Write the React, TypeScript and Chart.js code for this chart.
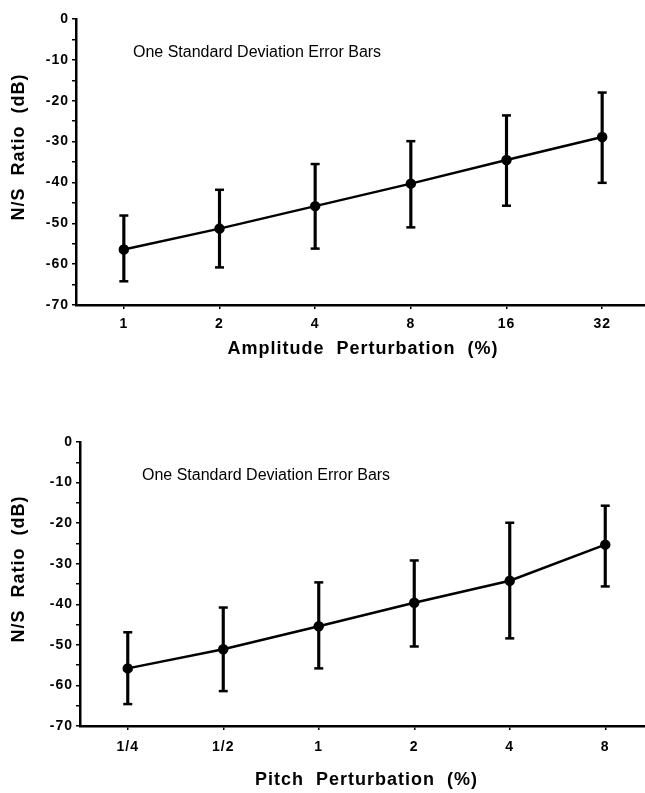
import React, { useEffect, useRef } from "react";
import { Chart, registerables } from "chart.js";

Chart.register(...registerables);

// ---- Data ----
const ampCategories = ["1", "2", "4", "8", "16", "32"];
const ampMeans = [-56.4, -51.3, -45.8, -40.3, -34.5, -28.9];
const ampUpper = [-48.1, -41.8, -35.5, -29.9, -23.6, -18.0];
const ampLower = [-64.2, -60.8, -56.2, -51.0, -45.7, -40.1];

const pitchCategories = ["1/4", "1/2", "1", "2", "4", "8"];
const pitchMeans = [-55.8, -51.1, -45.4, -39.6, -34.2, -25.3];
const pitchUpper = [-46.9, -40.8, -34.6, -29.2, -19.9, -15.7];
const pitchLower = [-64.6, -61.4, -55.8, -50.4, -48.4, -35.6];

const yMin = -70;
const yMax = 0;
const yStep = 5;
const yLabelStep = 10;

const yTitle = "     N/S  Ratio  (dB)";
const noteText = "One Standard Deviation Error Bars";

const FONT = '"Liberation Sans", Arial, Helvetica, sans-serif';

const letterSpacingPlugin = {
  id: "letterSpacing",
  beforeDraw(chart: any) {
    (chart.ctx as any).letterSpacing = "1px";
  },
};

type Props = {
  categories: string[];
  means: number[];
  upper: number[];
  lower: number[];
  xTitle: string;
  top: number;
  height: number;
  padTop: number;
  yWidth: number;
  xHeight: number;
  padRight: number;
  xTickPad: number;
  xTitlePadBottom: number;
  noteLeft: number;
  noteTop: number;
};

function ErrorChart(p: Props) {
  const ref = useRef<HTMLCanvasElement | null>(null);
  const WIDTH = 660;

  useEffect(() => {
    if (!ref.current) return;
    const chart = new Chart(ref.current, {
      type: "bar",
      data: {
        labels: p.categories,
        datasets: [
          {
            type: "line",
            data: p.means,
            borderColor: "#000",
            backgroundColor: "#000",
            borderWidth: 2.5,
            pointRadius: 4,
            pointBackgroundColor: "#000",
            pointBorderColor: "#000",
            tension: 0,
            order: 0,
          } as any,
          {
            type: "bar",
            data: p.lower.map((l, i) => [l, p.upper[i]]),
            backgroundColor: "#000",
            borderWidth: 0,
            barThickness: 2.5,
            order: 1,
          } as any,
          {
            type: "line",
            data: p.upper,
            showLine: false,
            pointStyle: "line",
            pointRadius: 4.5,
            pointBorderWidth: 2.5,
            borderColor: "#000",
            pointBorderColor: "#000",
            order: 2,
          } as any,
          {
            type: "line",
            data: p.lower,
            showLine: false,
            pointStyle: "line",
            pointRadius: 4.5,
            pointBorderWidth: 2.5,
            borderColor: "#000",
            pointBorderColor: "#000",
            order: 2,
          } as any,
        ],
      },
      plugins: [letterSpacingPlugin],
      options: {
        responsive: false,
        animation: false,
        layout: {
          padding: { top: p.padTop, right: p.padRight, left: 0, bottom: 0 },
        },
        plugins: {
          legend: { display: false },
          tooltip: { enabled: false },
        },
        scales: {
          x: {
            type: "category",
            offset: true,
            grid: {
              offset: false,
              drawOnChartArea: false,
              drawTicks: true,
              tickLength: 4,
              color: "#000",
              lineWidth: 1.5,
            },
            border: { display: true, color: "#000", width: 2.5 },
            ticks: {
              color: "#000",
              padding: p.xTickPad,
              maxRotation: 0,
              autoSkip: false,
              font: { family: FONT, size: 14, weight: "bold" },
            },
            title: {
              display: true,
              text: p.xTitle,
              color: "#000",
              padding: { top: 0, bottom: p.xTitlePadBottom },
              font: { family: FONT, size: 18, weight: "bold" },
            },
            afterFit: (s: any) => {
              s.height = p.xHeight;
            },
          },
          y: {
            type: "linear",
            min: yMin,
            max: yMax,
            grid: {
              drawOnChartArea: false,
              drawTicks: true,
              tickLength: 4,
              color: "#000",
              lineWidth: 1.5,
            },
            border: { display: true, color: "#000", width: 2.5 },
            ticks: {
              stepSize: yStep,
              autoSkip: false,
              color: "#000",
              padding: 3,
              font: { family: FONT, size: 14, weight: "bold" },
              callback: (v: any) =>
                Number(v) % yLabelStep === 0 ? String(v) : "",
            },
            title: {
              display: true,
              text: yTitle,
              color: "#000",
              padding: { top: 8, bottom: 0 },
              font: { family: FONT, size: 18, weight: "bold" },
            },
            afterFit: (s: any) => {
              s.width = p.yWidth;
            },
          },
        },
      } as any,
    });
    return () => chart.destroy();
  }, []);

  return (
    <div
      style={{
        position: "absolute",
        left: 0,
        top: p.top,
        width: WIDTH,
        height: p.height,
      }}
    >
      <canvas
        ref={ref}
        width={WIDTH}
        height={p.height}
        style={{ width: WIDTH, height: p.height, display: "block" }}
      />
      <div
        style={{
          position: "absolute",
          left: p.noteLeft,
          top: p.noteTop,
          fontFamily: FONT,
          fontSize: 16,
          color: "#000",
          whiteSpace: "nowrap",
          lineHeight: "18px",
        }}
      >
        {noteText}
      </div>
    </div>
  );
}

export default function App() {
  return (
    <div
      style={{
        position: "absolute",
        left: 0,
        top: 0,
        width: 645,
        height: 793,
        overflow: "hidden",
        background: "#fff",
      }}
    >
      <ErrorChart
        categories={ampCategories}
        means={ampMeans}
        upper={ampUpper}
        lower={ampLower}
        xTitle="Amplitude  Perturbation  (%)"
        top={0}
        height={370}
        padTop={19}
        yWidth={76}
        xHeight={65}
        padRight={10}
        xTickPad={7}
        xTitlePadBottom={10}
        noteLeft={133}
        noteTop={43}
      />
      <ErrorChart
        categories={pitchCategories}
        means={pitchMeans}
        upper={pitchUpper}
        lower={pitchLower}
        xTitle="Pitch  Perturbation  (%)"
        top={400}
        height={393}
        padTop={42}
        yWidth={80}
        xHeight={67}
        padRight={3}
        xTickPad={9}
        xTitlePadBottom={2}
        noteLeft={142}
        noteTop={66}
      />
    </div>
  );
}
